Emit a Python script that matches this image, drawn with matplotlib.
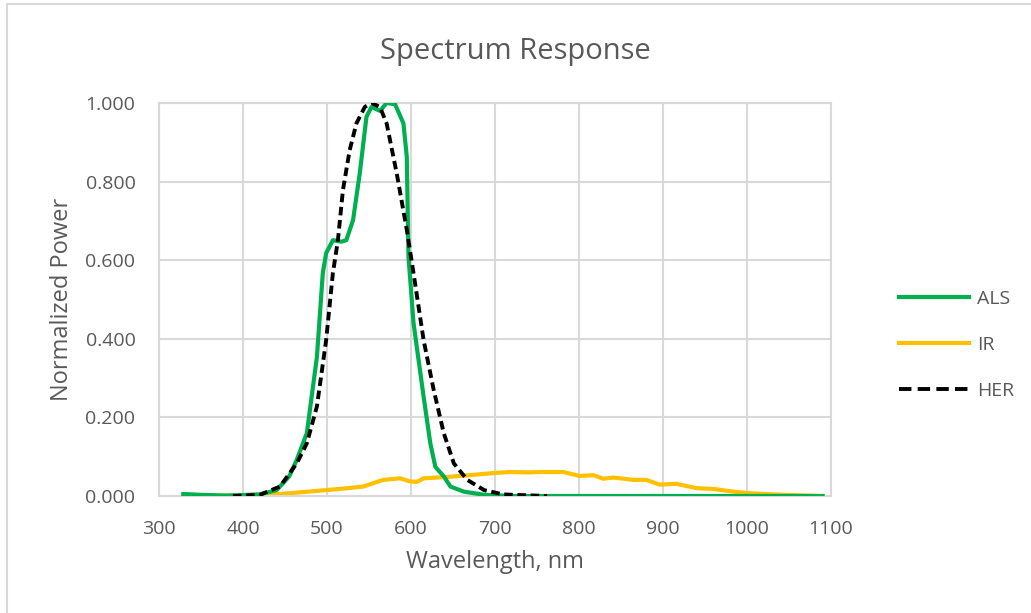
import matplotlib.pyplot as plt
from matplotlib.lines import Line2D

# ====== DATA ======
als_nm = [329, 350, 380, 420, 440, 455, 464, 476, 488, 495, 499, 507, 517, 523, 531,
          539, 547, 553, 563, 571, 581, 591, 595, 597, 603, 615, 623, 629, 639, 647,
          663, 687, 720, 800, 900, 1000, 1090]
als_pw = [0.005, 0.003, 0.001, 0.004, 0.015, 0.05, 0.092, 0.16, 0.354, 0.567, 0.618,
          0.651, 0.647, 0.651, 0.702, 0.821, 0.965, 0.99, 0.98, 1.0, 0.997, 0.948,
          0.863, 0.609, 0.44, 0.253, 0.134, 0.074, 0.05, 0.024, 0.011, 0.003, 0.0,
          0.0, 0.0, 0.0, 0.0]

ir_nm = [329, 360, 400, 450, 499, 520, 543, 567, 587, 599, 607, 615, 647, 680, 702,
         718, 740, 754, 781, 801, 817, 829, 841, 865, 880, 896, 916, 940, 960, 984,
         1003, 1043, 1090]
ir_pw = [0.003, 0.001, 0.002, 0.006, 0.015, 0.019, 0.024, 0.041, 0.045, 0.037, 0.036,
         0.045, 0.049, 0.055, 0.059, 0.061, 0.060, 0.061, 0.061, 0.051, 0.053, 0.044,
         0.047, 0.041, 0.041, 0.029, 0.031, 0.020, 0.018, 0.011, 0.007, 0.003, 0.0]

her_nm = [388, 420, 444, 464, 476, 488, 499, 507, 513, 519, 527, 535, 545, 553, 563,
          571, 583, 595, 603, 615, 627, 639, 651, 667, 687, 710, 762]
her_pw = [0.0, 0.003, 0.024, 0.083, 0.134, 0.228, 0.397, 0.567, 0.651, 0.779, 0.88,
          0.948, 0.99, 1.0, 0.99, 0.948, 0.821, 0.677, 0.567, 0.397, 0.27, 0.16,
          0.083, 0.041, 0.015, 0.004, 0.0]

x_ticks = [300, 400, 500, 600, 700, 800, 900, 1000, 1100]
y_ticks = [0.0, 0.2, 0.4, 0.6, 0.8, 1.0]

# ====== STYLE ======
plt.rcParams['font.family'] = ['Open Sans', 'DejaVu Sans']
text_col = "#595959"
grid_col = "#d9d9d9"

fig = plt.figure(figsize=(10.31, 6.13), dpi=100)
ax = fig.add_axes([159 / 1031, 1 - 496 / 613, (831 - 159) / 1031, (496 - 103) / 613])

ax.plot(als_nm, als_pw, color="#00B050", linewidth=3, label="ALS", zorder=3)
ax.plot(ir_nm, ir_pw, color="#FFC000", linewidth=3, label="IR", zorder=2)
ax.plot(her_nm, her_pw, color="black", linewidth=2.8, linestyle=(0, (2.2, 1.2)),
        label="HER", zorder=4)

ax.set_xlim(300, 1100)
ax.set_ylim(0, 1.0)
ax.set_xticks(x_ticks)
ax.set_yticks(y_ticks)
ax.set_yticklabels([f"{v:.3f}" for v in y_ticks])
ax.tick_params(length=0, labelsize=14, colors=text_col)
ax.tick_params(axis="y", pad=17)
ax.tick_params(axis="x", pad=17)
ax.grid(color=grid_col, linewidth=1.5)
ax.set_axisbelow(True)
for s in ax.spines.values():
    s.set_color(grid_col)
    s.set_linewidth(1.5)

# title is centred on the whole chart area, not the plot area
fig.text(0.5, 1 - 51 / 613, "Spectrum Response", fontsize=21, color=text_col,
         ha="center", va="center")
ax.set_xlabel("Wavelength, nm", fontsize=17, color=text_col, labelpad=9)
ax.set_ylabel("Normalized Power", fontsize=17, color=text_col, labelpad=8)

leg = ax.legend(loc="center left", bbox_to_anchor=(1.075, 0.385), frameon=False,
                fontsize=14, handlelength=3.6, labelspacing=1.45, handletextpad=0.4)
leg.get_lines()[2].set_linestyle((0, (3.2, 1.6)))
for t in leg.get_texts():
    t.set_color(text_col)

# chart-area border (only top and left visible in the crop)
fig.add_artist(Line2D([7 / 1031, 7 / 1031], [0, 1 - 4 / 613], color=grid_col, linewidth=1.5))
fig.add_artist(Line2D([7 / 1031, 1], [1 - 4 / 613, 1 - 4 / 613], color=grid_col, linewidth=1.5))

fig.savefig("out.png", dpi=100)
